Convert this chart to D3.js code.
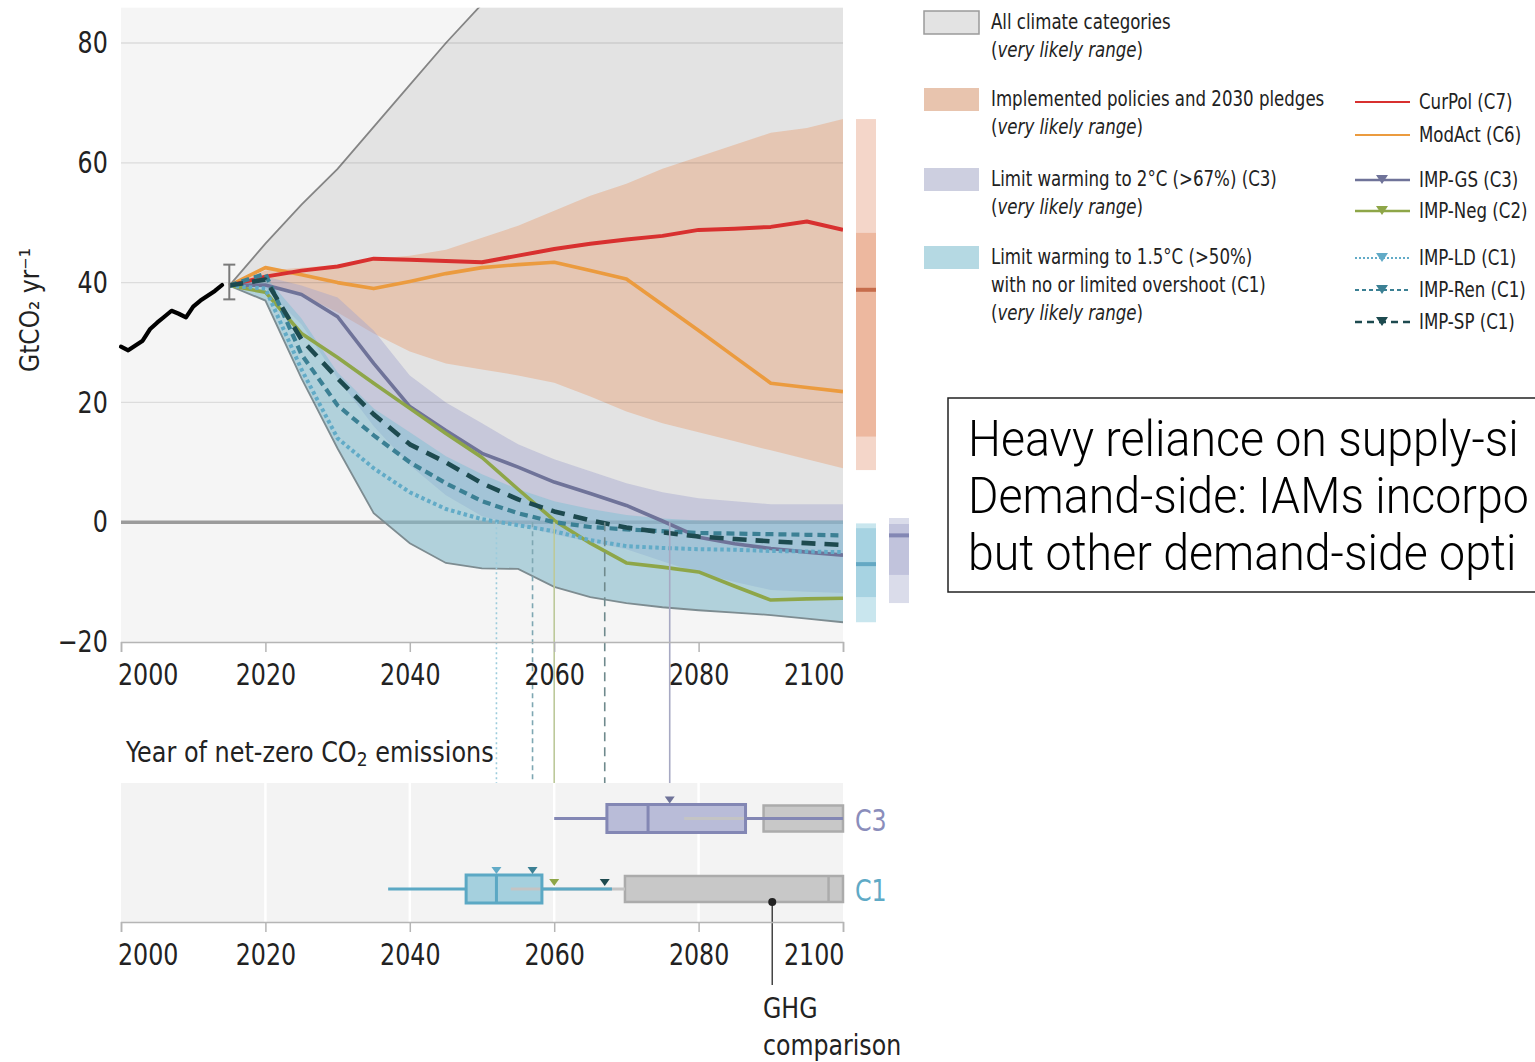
<!DOCTYPE html>
<html><head><meta charset="utf-8">
<script src="https://cdn.jsdelivr.net/npm/d3@7"></script>
<style>
body{margin:0;background:#fff;}
svg{display:block;}
text{font-family:"DejaVu Sans Condensed","Liberation Sans Narrow","Arial Narrow",sans-serif;fill:#222;}
</style></head><body>
<svg id="chart" width="1535" height="1062"></svg>
<script>
// ---------- DATA ----------
const histYears = [2000,2001,2002,2003,2004,2005,2006,2007,2008,2009,2010,2011,2012,2013,2014];
const histValues = [29.3,28.7,29.5,30.3,32.2,33.3,34.3,35.3,34.8,34.2,36.0,37.0,37.8,38.6,39.6];
const errYear = 2015, errLow = 37.2, errHigh = 43.0;

const years = [2015,2020,2025,2030,2035,2040,2045,2050,2055,2060,2065,2070,2075,2080,2085,2090,2095,2100];
const allUpper = [39.5,46.5,53,59,66,73,80,86.5,92,98,103,108,113,118,121,125,128,130];
const allLower = [39.5,37,24,12.3,1.5,-3.5,-6.8,-7.7,-7.8,-10.8,-12.5,-13.5,-14.2,-14.7,-15.1,-15.5,-16.1,-16.7];
const polUpper = [39.5,42,42.5,43,44,44.5,45.5,47.5,49.5,52,54.5,56.5,59,61,63,65,65.8,67.3];
const polLower = [39.5,40,38,35,31.5,28.5,26.5,25.5,24.5,23.3,21,18.5,16.5,15,13.5,12,10.5,9];
const c3Upper = [39.5,41,39.5,37.5,32,24.5,20,16.5,13,10.5,8.5,6.5,5,4,3.5,3,3,3];
const c3Lower = [39.5,39,33,24,16,9.5,4.5,1,-0.5,-2,-3.3,-4.5,-6.5,-8.5,-10,-11.3,-11.6,-11.8];
const c1Upper = [39.5,41,34,25,19,15,11,8,5.5,3.5,2.2,1.2,0.6,0.3,0.3,0.3,0.3,0.3];
const c1Lower = [39.5,37,24,12.3,1.5,-3.5,-6.8,-7.7,-7.8,-10.8,-12.5,-13.5,-14.2,-14.7,-15.1,-15.5,-16.1,-16.7];

const curPol = [39.5,41,42,42.7,44,43.8,43.6,43.4,44.5,45.6,46.5,47.2,47.8,48.8,49.0,49.3,50.2,48.8];
const modAct = [39.5,42.5,41.3,40,39,40.2,41.5,42.5,43,43.4,42,40.6,36.3,32,27.6,23.2,22.5,21.8];
const impGS  = [39.5,39.6,38,34.3,26.5,19.3,15.3,11.5,9.2,6.7,4.8,2.8,0.2,-2.5,-3.6,-4.4,-5.0,-5.5];
const impNeg = [39.5,38.4,31.5,27.5,23.2,19,14.8,10.8,5.5,0.3,-3.5,-6.8,-7.5,-8.3,-10.7,-13,-12.8,-12.7];
const impLD  = [39.5,39,25.5,14,9,5,2.2,0.5,-0.5,-1.5,-3,-4,-4.3,-4.5,-4.6,-4.8,-4.9,-5];
const impRen = [39.5,41.5,28,19.5,14.5,10,6.5,3.5,1.5,0,-0.8,-1.2,-1.5,-1.8,-1.9,-2,-2.1,-2.2];
const impSP  = [39.5,40.5,30.5,24,18,13,10,6.5,3.8,1.8,0.3,-0.9,-1.7,-2.4,-2.8,-3.2,-3.5,-3.8];

// 2100 summary bars: [lightLow, darkLow, median, darkHigh, lightHigh]
const barNames = ["Policies","C1","C3"];
const barStats = [[8.7,14.3,38.8,48.3,67.3],[-16.7,-12.5,-7,-1,-0.2],[-13.5,-8.8,-2.2,-0.3,0.7]];

// Net-zero year box plots: [whiskerLow, q1, median, q3, whiskerHigh]
const boxRows = ["C3","C1"];
const boxStats = [[2060,2067.3,2073,2086.5,2100],[2037,2047.8,2052,2058.3,2068]];
// GHG comparison: [whiskerLow, q1, median]
const ghgStats = [[2078,2089,null],[2054,2069.8,2098]];
const ghgDotYear = 2090.2;

const netZeroNames = ["IMP-LD","IMP-Ren","IMP-Neg","IMP-SP","IMP-GS"];
const netZeroYears = [2052,2057,2060,2067,2076];
const netZeroRows = ["C1","C1","C1","C1","C3"];

const xTicks = [2000,2020,2040,2060,2080,2100];
const yTicks = [-20,0,20,40,60,80];

const noteLines = ["Heavy reliance on supply-side mitigation options",
                   "Demand-side: IAMs incorporate some options,",
                   "but other demand-side options are missing"];

// ---------- STYLE ----------
const SX = 0.88;
const col = {
  CurPol:"#d8302f", ModAct:"#eb9b3f", "IMP-GS":"#6f7399", "IMP-Neg":"#8ea648",
  "IMP-LD":"#62abc7", "IMP-Ren":"#3b8094", "IMP-SP":"#1d4a4f"
};
const connColor = {"IMP-LD":"#9ccbdc","IMP-Ren":"#7ea7b2","IMP-Neg":"#bcc99a","IMP-SP":"#6f8a8d","IMP-GS":"#a7a9c3"};
const connDash = {"IMP-LD":"2,3","IMP-Ren":"5,4","IMP-Neg":null,"IMP-SP":"9,6","IMP-GS":null};
const triColor = {"IMP-LD":"#62abc7","IMP-Ren":"#3b8094","IMP-Neg":"#8ea648","IMP-SP":"#1d4a4f","IMP-GS":"#6f7399"};

const svg = d3.select("#chart");
svg.append("rect").attr("width",1535).attr("height",1062).attr("fill","#fff");

function stext(x,y,size,sx,anchor){
  return svg.append("text").attr("transform",`translate(${x},${y}) scale(${sx},1)`)
    .attr("dominant-baseline","central").attr("font-size",size).attr("text-anchor",anchor||"start");
}

const x = d3.scaleLinear().domain([2000,2100]).range([121,843]);
const y = d3.scaleLinear().domain([-20,80]).range([642,43]);
const yTopVal = 85.9;
const rowY = d3.scalePoint().domain(boxRows).range([818.5,889]);

// plot background
svg.append("rect").attr("x",x(2000)).attr("y",y(yTopVal)).attr("width",x(2100)-x(2000)).attr("height",y(-20)-y(yTopVal)).attr("fill","#f5f5f5");
svg.append("clipPath").attr("id","clip").append("rect")
  .attr("x",x(2000)).attr("y",y(yTopVal)).attr("width",x(2100)-x(2000)).attr("height",y(-20)-y(yTopVal));
const g = svg.append("g").attr("clip-path","url(#clip)");

const area = (lo,hi)=>d3.area().x((d,i)=>x(years[i])).y0((d,i)=>y(lo[i])).y1((d,i)=>y(hi[i]))(years);
const line = vals=>d3.line().x((d,i)=>x(years[i])).y(d=>y(d))(vals);

g.append("path").attr("d",area(allLower,allUpper)).attr("fill","#e3e3e3");
g.append("path").attr("d",area(polLower,polUpper)).attr("fill","#e5c6b3");
g.append("line").attr("x1",x(2000)).attr("x2",x(2100)).attr("y1",y(0)).attr("y2",y(0)).attr("stroke","#9b9b9b").attr("stroke-width",3.5);
g.append("path").attr("d",area(c3Lower,c3Upper)).attr("fill","#9fa3cc").attr("fill-opacity",0.42);
g.append("path").attr("d",area(c1Lower,c1Upper)).attr("fill","#7fc0d4").attr("fill-opacity",0.5);
g.append("path").attr("d",line(allUpper)).attr("fill","none").attr("stroke","#858585").attr("stroke-width",1.8);
g.append("path").attr("d",line(allLower)).attr("fill","none").attr("stroke","#7d8c91").attr("stroke-width",1.8);

g.selectAll(".grid").data([20,40,60,80]).enter().append("line")
  .attr("x1",x(2000)).attr("x2",x(2100)).attr("y1",d=>y(d)).attr("y2",d=>y(d))
  .attr("stroke","#000").attr("stroke-opacity",0.1).attr("stroke-width",1.3);

const tipY = (name,i)=>{
  const r = boxRows.indexOf(netZeroRows[i]); const s = boxStats[r]; const yr = netZeroYears[i];
  return (yr>=s[1] && yr<=s[3]) ? rowY(netZeroRows[i])-15 : rowY(netZeroRows[i])-3;
};
netZeroNames.forEach((n,i)=>{
  const l = svg.append("line").attr("x1",x(netZeroYears[i])).attr("x2",x(netZeroYears[i]))
    .attr("y1",y(0)).attr("y2",tipY(n,i)-6).attr("stroke",connColor[n]).attr("stroke-width",1.6);
  if(connDash[n]) l.attr("stroke-dasharray",connDash[n]);
});

const series = [["ModAct",modAct,3.6,null],["CurPol",curPol,4,null],["IMP-GS",impGS,3.6,null],["IMP-Neg",impNeg,3.6,null],
  ["IMP-LD",impLD,4,"3.5,3"],["IMP-Ren",impRen,4.2,"8,5"],["IMP-SP",impSP,4.6,"14,9"]];
series.forEach(([n,v,w,dash])=>{
  const p = g.append("path").attr("d",line(v)).attr("fill","none").attr("stroke",col[n]).attr("stroke-width",w).attr("stroke-linejoin","round");
  if(dash) p.attr("stroke-dasharray",dash);
});

svg.append("path").attr("d",d3.line().x((d,i)=>x(histYears[i])).y(d=>y(d))(histValues))
  .attr("fill","none").attr("stroke","#000").attr("stroke-width",4.2).attr("stroke-linejoin","round").attr("stroke-linecap","round");
const eb = svg.append("g").attr("stroke","#7a7a7a").attr("stroke-width",2);
eb.append("line").attr("x1",x(errYear)).attr("x2",x(errYear)).attr("y1",y(errLow)).attr("y2",y(errHigh));
eb.append("line").attr("x1",x(errYear)-6).attr("x2",x(errYear)+6).attr("y1",y(errLow)).attr("y2",y(errLow));
eb.append("line").attr("x1",x(errYear)-6).attr("x2",x(errYear)+6).attr("y1",y(errHigh)).attr("y2",y(errHigh));

function styleXAxis(ax){
  ax.select(".domain").attr("stroke","#b5b5b5").attr("stroke-width",1.5);
  ax.selectAll(".tick line").attr("stroke","#b5b5b5").attr("stroke-width",1.5);
  ax.selectAll("text").attr("font-size",30).attr("fill","#222").attr("font-family",null).attr("transform",`scale(${SX},1)`);
  ax.selectAll(".tick").filter(d=>d===2000).select("text").attr("text-anchor","start").attr("x",-4);
  ax.selectAll(".tick").filter(d=>d===2100).select("text").attr("text-anchor","end").attr("x",1);
}
const xAxis = svg.append("g").attr("transform",`translate(0,${y(-20)})`)
  .call(d3.axisBottom(x).tickValues(xTicks).tickFormat(d3.format("d")).tickSize(10).tickPadding(12));
styleXAxis(xAxis);

const yAxis = svg.append("g").attr("transform",`translate(${x(2000)},0)`)
  .call(d3.axisLeft(y).tickValues(yTicks).tickSize(0).tickPadding(15));
yAxis.select(".domain").remove();
yAxis.selectAll("text").attr("font-size",30).attr("fill","#222").attr("font-family",null).attr("transform",`scale(${SX},1)`);

svg.append("text").attr("transform","translate(30,310) rotate(-90)").attr("text-anchor","middle")
  .attr("dominant-baseline","central").attr("font-size",26).text("GtCO₂ yr⁻¹");

// 2100 summary bars
const barX = [856,856,889], barW = 20;
const barCols = [["#f4d6c9","#edb89f","#c66c4b"],["#c9e6ee","#a7d3e2","#64a8c3"],["#dadcea","#c1c3dc","#8387b4"]];
barStats.forEach((s,i)=>{
  svg.append("rect").attr("x",barX[i]).attr("width",barW).attr("y",y(s[4])).attr("height",y(s[0])-y(s[4])).attr("fill",barCols[i][0]);
  svg.append("rect").attr("x",barX[i]).attr("width",barW).attr("y",y(s[3])).attr("height",y(s[1])-y(s[3])).attr("fill",barCols[i][1]);
  svg.append("rect").attr("x",barX[i]).attr("width",barW).attr("y",y(s[2])-2).attr("height",4).attr("fill",barCols[i][2]);
});

// ---------- Net-zero panel ----------
stext(126,752,28,0.95).html('Year of net-zero CO<tspan font-size="20" dy="7">2</tspan><tspan dy="-7"> emissions</tspan>');
const panelTop = 783, panelBot = 922;
svg.append("rect").attr("x",x(2000)).attr("y",panelTop).attr("width",x(2100)-x(2000)).attr("height",panelBot-panelTop).attr("fill","#f3f3f3");
svg.selectAll(".vgrid").data([2020,2040,2060,2080]).enter().append("line")
  .attr("x1",d=>x(d)).attr("x2",d=>x(d)).attr("y1",panelTop).attr("y2",panelBot).attr("stroke","#fff").attr("stroke-width",2.5);

const rowCol = {C3:{fill:"#b9bcd8",stroke:"#8387b4",label:"#8a8dbb"},C1:{fill:"#a5d0de",stroke:"#5ba8c4",label:"#5faac6"}};
boxRows.forEach((r,i)=>{
  const cy = rowY(r), s = boxStats[i], gs = ghgStats[i];
  svg.append("rect").attr("x",x(gs[1])).attr("y",cy-13).attr("width",x(2100)-x(gs[1])).attr("height",26)
    .attr("fill","#c8c8c8").attr("stroke","#ababab").attr("stroke-width",2.5);
  if(gs[2]!==null) svg.append("line").attr("x1",x(gs[2])).attr("x2",x(gs[2])).attr("y1",cy-13).attr("y2",cy+13).attr("stroke","#ababab").attr("stroke-width",2.5);
  svg.append("rect").attr("x",x(s[1])).attr("y",cy-14).attr("width",x(s[3])-x(s[1])).attr("height",28).attr("fill",rowCol[r].fill);
  svg.append("line").attr("x1",x(gs[0])).attr("x2",x(gs[1])).attr("y1",cy).attr("y2",cy).attr("stroke","#c4c4c4").attr("stroke-width",3);
  svg.append("line").attr("x1",x(s[0])).attr("x2",x(s[1])).attr("y1",cy).attr("y2",cy).attr("stroke",rowCol[r].stroke).attr("stroke-width",3);
  svg.append("line").attr("x1",x(s[3])).attr("x2",x(s[4])).attr("y1",cy).attr("y2",cy).attr("stroke",rowCol[r].stroke).attr("stroke-width",3);
  svg.append("rect").attr("x",x(s[1])).attr("y",cy-14).attr("width",x(s[3])-x(s[1])).attr("height",28)
    .attr("fill","none").attr("stroke",rowCol[r].stroke).attr("stroke-width",3);
  svg.append("line").attr("x1",x(s[2])).attr("x2",x(s[2])).attr("y1",cy-14).attr("y2",cy+14).attr("stroke",rowCol[r].stroke).attr("stroke-width",3);
  stext(855,cy+2,30,SX).style("fill",rowCol[r].label).text(r);
});

netZeroNames.forEach((n,i)=>{
  const tx = x(netZeroYears[i]), ty = tipY(n,i);
  svg.append("path").attr("d",`M${tx-5},${ty-7}L${tx+5},${ty-7}L${tx},${ty}Z`).attr("fill",triColor[n]);
});

const gcy = rowY("C1")+13;
svg.append("line").attr("x1",x(ghgDotYear)).attr("x2",x(ghgDotYear)).attr("y1",gcy).attr("y2",985).attr("stroke","#444").attr("stroke-width",1.5);
svg.append("circle").attr("cx",x(ghgDotYear)).attr("cy",gcy).attr("r",4).attr("fill","#222");
stext(763,1008,28,0.94).text("GHG");
stext(763,1045,28,0.94).text("comparison");

const xAxis2 = svg.append("g").attr("transform",`translate(0,${panelBot})`)
  .call(d3.axisBottom(x).tickValues(xTicks).tickFormat(d3.format("d")).tickSize(10).tickPadding(12));
styleXAxis(xAxis2);

// ---------- Legend ----------
const bandLegend = [
  {fill:"#e3e3e3",stroke:"#9a9a9a",y:22,lines:["All climate categories"]},
  {fill:"#e8c4ae",stroke:null,y:99,lines:["Implemented policies and 2030 pledges"]},
  {fill:"#cdcfe0",stroke:null,y:179,lines:["Limit warming to 2°C (>67%) (C3)"]},
  {fill:"#b5d9e3",stroke:null,y:257,lines:["Limit warming to 1.5°C (>50%)","with no or limited overshoot (C1)"]}
];
bandLegend.forEach(b=>{
  const r = svg.append("rect").attr("x",924).attr("y",b.y-11).attr("width",55).attr("height",23).attr("fill",b.fill);
  if(b.stroke) r.attr("stroke",b.stroke).attr("stroke-width",1.5);
  b.lines.forEach((t,k)=>{ stext(991,b.y+k*28,21,SX).text(t); });
  stext(991,b.y+b.lines.length*28,21,SX).html('(<tspan font-style="italic">very likely range</tspan>)');
});

const lineLegend = [
  {n:"CurPol",label:"CurPol (C7)",y:102,w:2.2,dash:null,tri:false},
  {n:"ModAct",label:"ModAct (C6)",y:135,w:2.2,dash:null,tri:false},
  {n:"IMP-GS",label:"IMP-GS (C3)",y:180,w:2.5,dash:null,tri:true},
  {n:"IMP-Neg",label:"IMP-Neg (C2)",y:211,w:2.5,dash:null,tri:true},
  {n:"IMP-LD",label:"IMP-LD (C1)",y:258,w:2,dash:"2,2",tri:true},
  {n:"IMP-Ren",label:"IMP-Ren (C1)",y:290,w:2.2,dash:"4,3",tri:true},
  {n:"IMP-SP",label:"IMP-SP (C1)",y:322,w:2.5,dash:"7,5",tri:true}
];
lineLegend.forEach(l=>{
  const ln = svg.append("line").attr("x1",1355).attr("x2",1410).attr("y1",l.y).attr("y2",l.y).attr("stroke",col[l.n]).attr("stroke-width",l.w);
  if(l.dash) ln.attr("stroke-dasharray",l.dash);
  if(l.tri) svg.append("path").attr("d",`M${1376},${l.y-5}L${1388},${l.y-5}L${1382},${l.y+4}Z`).attr("fill",col[l.n]);
  stext(1419,l.y,21,SX).text(l.label);
});

// ---------- Annotation box (runs off the right edge, as in the reference) ----------
svg.append("rect").attr("x",948).attr("y",398).attr("width",640).attr("height",194).attr("fill","#fff").attr("stroke","#222").attr("stroke-width",1.5);
const NSX = 0.93;
noteLines.forEach((t,k)=>{
  const tx = svg.append("text").attr("transform",`translate(968,${456+k*57}) scale(${NSX},1)`).attr("font-size",50)
    .style("font-family","Roboto,'Liberation Sans',Arial,sans-serif").style("font-weight",300).style("fill","#000").text(t);
  let s = t;
  while(s.length>1 && 968 + tx.node().getComputedTextLength()*NSX > 1533){ s = s.slice(0,-1); tx.text(s); }
});
</script>
</body></html>
